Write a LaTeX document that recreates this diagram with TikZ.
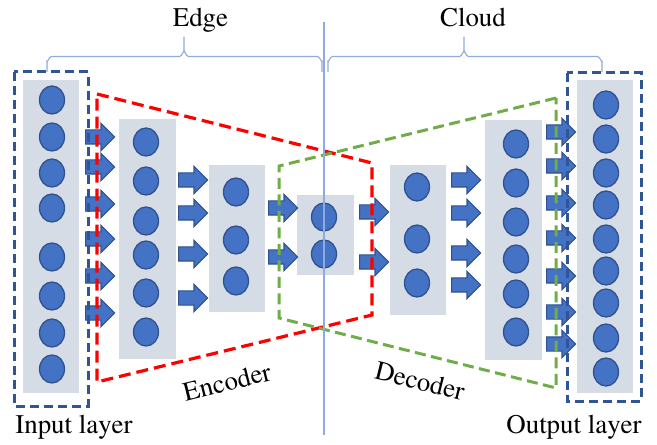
\documentclass[tikz,border=0pt]{standalone}
\usepackage[T1]{fontenc}
\usepackage{mathptmx}
\usetikzlibrary{shapes.geometric,shapes.arrows}
\definecolor{cfill}{HTML}{4472C4}
\definecolor{cline}{HTML}{2F528F}
\definecolor{panelc}{HTML}{D6DCE5}
\definecolor{boxblue}{HTML}{2F5597}
\definecolor{encred}{HTML}{FF0000}
\definecolor{decgreen}{HTML}{70AD47}
\definecolor{bracec}{HTML}{8FAADC}
\tikzset{
  panel/.style={fill=panelc, draw=none, inner sep=0},
  neuron/.style={ellipse, fill=cfill, draw=cline, line width=1.3bp, minimum width=25bp, minimum height=28bp, inner sep=0},
  barrow/.style={single arrow, fill=cfill, draw=cline, line width=1.2bp, minimum height=29bp, inner xsep=0pt, inner ysep=6.5bp, single arrow head extend=6.5bp, single arrow tip angle=90, anchor=tail},
  layerbox/.style={draw=boxblue, line width=3bp, dash pattern=on 9bp off 5bp},
  encline/.style={draw=encred, line width=3.2bp, dash pattern=on 12bp off 6bp, line join=miter},
  decline/.style={draw=decgreen, line width=3bp, dash pattern=on 11bp off 5.5bp, line join=miter},
  bracel/.style={draw=bracec, line width=1.1bp},
  lbl/.style={font=\fontfamily{ptm}\fontsize{27}{30}\selectfont, inner sep=0},
}
\begin{document}
\begin{tikzpicture}[x=1bp, y=-1bp]
\useasboundingbox (0,0) rectangle (657,445);
% panels
\node[panel, minimum width=56bp, minimum height=313bp] (p1) at (51,236.5) {};
\node[panel, minimum width=57bp, minimum height=240bp] (p2) at (147.5,239) {};
\node[panel, minimum width=56bp, minimum height=147bp] (p3) at (237,238.5) {};
\node[panel, minimum width=57bp, minimum height=80bp] (p4) at (325.5,235) {};
\node[panel, minimum width=56bp, minimum height=150bp] (p5) at (418,240) {};
\node[panel, minimum width=57bp, minimum height=240bp] (p6) at (513.5,240) {};
\node[panel, minimum width=56bp, minimum height=313bp] (p7) at (605,236.5) {};
% neurons
\foreach \y [count=\i] in {100,137,173,208,257,296,333,369} \node[neuron] (a\i) at (52,\y) {};
\foreach \y [count=\i] in {142,181,221,255,293,332} \node[neuron] (b\i) at (146,\y) {};
\foreach \y [count=\i] in {192,240,281} \node[neuron] (c\i) at (236,\y) {};
\foreach \y [count=\i] in {217,254} \node[neuron] (d\i) at (324,\y) {};
\foreach \y [count=\i] in {187,239,283} \node[neuron] (e\i) at (417,\y) {};
\foreach \y [count=\i] in {144,183,222,259,294,332} \node[neuron] (f\i) at (516,\y) {};
\foreach \y [count=\i] in {105,139,173,205,239,271,303,338,372} \node[neuron] (g\i) at (606,\y) {};
% arrows
\foreach \y [count=\i] in {137,167,204,239,276,313} \node[barrow] (ar1\i) at (85,\y) {};
\foreach \y [count=\i] in {180,213,254,298} \node[barrow] (ar2\i) at (178,\y) {};
\foreach \y [count=\i] in {208,257} \node[barrow] (ar3\i) at (268,\y) {};
\foreach \y [count=\i] in {212,262} \node[barrow] (ar4\i) at (359,\y) {};
\foreach \y [count=\i] in {180,213,253,285} \node[barrow] (ar5\i) at (451,\y) {};
\foreach \y [count=\i] in {132,166,203,238,276,312,344} \node[barrow] (ar6\i) at (546,\y) {};
% layer boxes
\draw[layerbox] (14,72) rectangle (88,406);
\draw[layerbox] (567,73) rectangle (641,401);
% encoder / decoder trapezoids
\coordinate (en1) at (97,94);
\coordinate (en2) at (372,163);
\coordinate (en3) at (372,315);
\coordinate (en4) at (97,382);
\draw[encline] (en1) -- (en2) -- (en3) -- (en4) -- cycle;
\coordinate (de1) at (556,98);
\coordinate (de2) at (279,166);
\coordinate (de3) at (279,318);
\coordinate (de4) at (556,388);
\draw[decline] (de1) -- (de2) -- (de3) -- (de4) -- cycle;
% braces and split line
\draw[bracel] (47,72) -- (47,61.5) to[out=-90,in=180] (51.5,56.5) -- (179.5,56.5) to[out=0,in=90] (184,51.5) -- (184,37);
\draw[bracel] (184,51.5) to[out=90,in=180] (188.5,56.5) -- (317.5,56.5) to[out=0,in=-90] (322,61.5) -- (322,72);
\draw[bracel] (328,72) -- (328,61.5) to[out=-90,in=180] (332.5,56.5) -- (459.5,56.5) to[out=0,in=90] (464,51.5) -- (464,37);
\draw[bracel] (464,51.5) to[out=90,in=180] (468.5,56.5) -- (597.5,56.5) to[out=0,in=-90] (602,61.5) -- (602,72);
\coordinate (vtop) at (324,22);
\coordinate (vbot) at (324,435);
\draw[bracel] (vtop) -- (vbot);
% labels
\node[lbl, anchor=base] (tedge) at (200.5,27) {Edge};
\node[lbl, anchor=base] (tcloud) at (473,27) {Cloud};
\node[lbl, anchor=base] (tin) at (74,433) {Input layer};
\node[lbl, anchor=base] (tout) at (574,433) {Output layer};
\node[lbl, rotate=14] (tenc) at (227,382) {Encoder};
\node[lbl, rotate=-14] (tdec) at (420,381) {Decoder};
\end{tikzpicture}
\end{document}
